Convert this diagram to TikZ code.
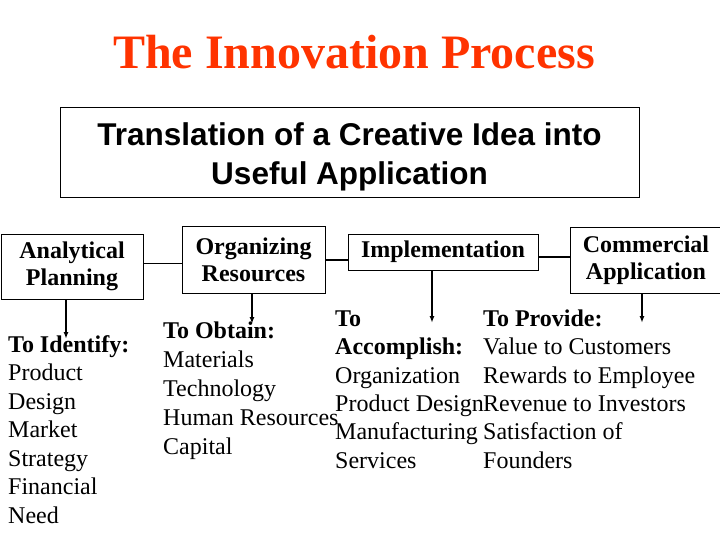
\documentclass[tikz,border=0pt]{standalone}
\definecolor{titlered}{RGB}{255, 51, 0}
\usepackage{fontspec}
\setmainfont{Liberation Serif}
\newfontfamily\arialfont{Liberation Sans}
\usepackage{tikz}
\usetikzlibrary{arrows.meta, positioning, calc}

\begin{document}
\begin{tikzpicture}[x=1pt, y=-1pt,
  stagebox/.style={draw, line width=1pt, align=center, inner sep=0pt, font=\fontsize{24}{27}\selectfont\bfseries},
  link/.style={line width=1.5pt},
  arr/.style={line width=1.5pt, -{Latex[length=7pt, width=5pt]}},
  listtext/.style={anchor=base west, align=left, inner sep=0pt}]
  \useasboundingbox (0,0) rectangle (720,540);

  % Title
  \node[font=\fontsize{48}{52}\selectfont\bfseries, text=titlered] (title) at (354,52) {The Innovation Process};
  \node[draw, line width=1pt, minimum width=579pt, minimum height=90pt] (idea) at (349.5,153) {};
  \node[align=center, font={\fontsize{31.5}{39}\selectfont\arialfont\bfseries}] (ideatext)
        at ([yshift=-4pt]idea.center) {Translation of a Creative Idea into\\Useful Application};

  % Stages
  \node[stagebox, minimum width=142pt, minimum height=65pt] (anal) at (72,266.5) {Analytical\\Planning};
  \node[stagebox, minimum width=143pt, minimum height=66pt] (org) at (253.5,260) {Organizing\\Resources};
  \node[stagebox, minimum width=190pt, minimum height=36pt] (impl) at (443,252) {Implementation};
  \node[stagebox, minimum width=152pt, minimum height=65pt] (comm) at (646,260.5) {Commercial\\Application};

  \draw[link] ([yshift=3pt]anal.east) -- ([yshift=3pt]anal.east -| org.west);
  \draw[link] (org.east) -- (org.east -| impl.west);
  \draw[link] ([yshift=-5pt]impl.east) -- ([yshift=-5pt]impl.east -| comm.west);

  % Lists (placed by the baseline of their last line)
  \node[listtext, font=\fontsize{24}{28.5}\selectfont] (identify) at (8,523)
    {\textbf{To Identify:}\\Product\\Design\\Market\\Strategy\\Financial\\Need};
  \node[listtext, font=\fontsize{24}{29}\selectfont] (obtain) at (163,454)
    {\textbf{To Obtain:}\\Materials\\Technology\\Human Resources\\Capital};
  \node[listtext, font=\fontsize{24}{28.3}\selectfont] (accomplish) at (335,468)
    {\textbf{To}\\\textbf{Accomplish:}\\Organization\\Product Design\\Manufacturing\\Services};
  \node[listtext, font=\fontsize{24}{28.3}\selectfont] (provide) at (483,468)
    {\textbf{To Provide:}\\Value to Customers\\Rewards to Employee\\Revenue to Investors\\Satisfaction of\\Founders};

  % Arrows
  \coordinate (tipA) at (66,339);
  \coordinate (tipB) at (252,324);
  \coordinate (tipC) at (432,323);
  \coordinate (tipD) at (642,323);
  \draw[arr] (anal.south -| tipA) -- (tipA);
  \draw[arr] (org.south -| tipB) -- (tipB);
  \draw[arr] (impl.south -| tipC) -- (tipC);
  \draw[arr] (comm.south -| tipD) -- (tipD);
\end{tikzpicture}
\end{document}
